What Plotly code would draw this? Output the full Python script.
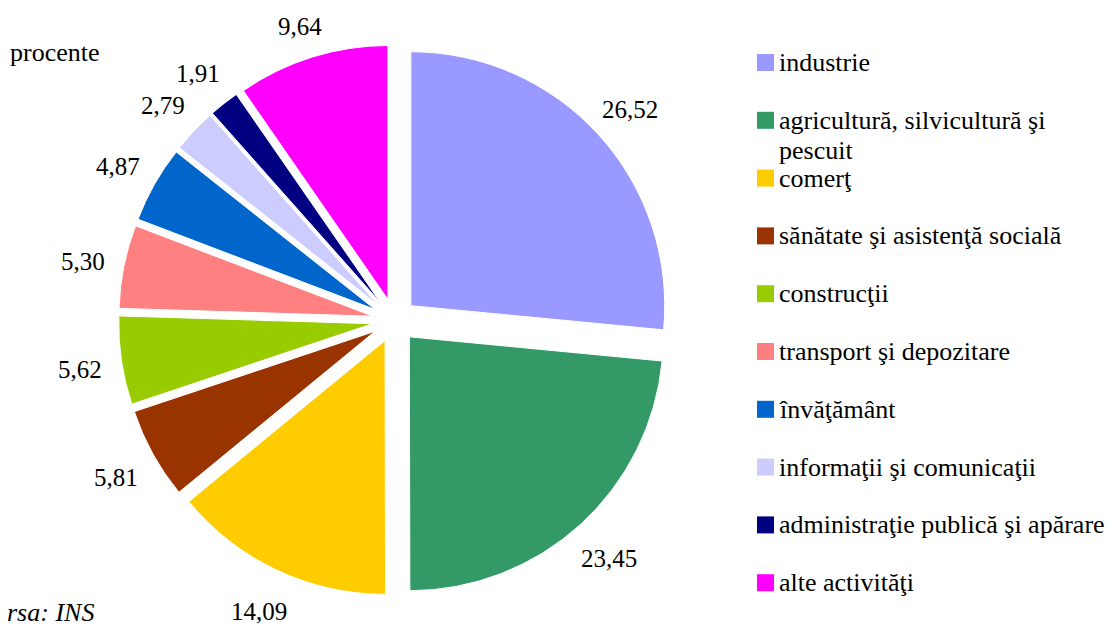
import math
import plotly.graph_objects as go

# populatia ocupata pe activitati, procente
categorii = ['industrie', 'agricultură, silvicultură şi pescuit', 'comerţ',
             'sănătate şi asistenţă socială', 'construcţii', 'transport şi depozitare',
             'învăţământ', 'informaţii şi comunicaţii', 'administraţie publică şi apărare',
             'alte activităţi']
valori = [26.52, 23.45, 14.09, 5.81, 5.62, 5.30, 4.87, 2.79, 1.91, 9.64]
culori = ['#9999FF', '#339966', '#FFCC00', '#993300', '#99CC00',
          '#FF8080', '#0066CC', '#CCCCFF', '#000080', '#FF00FF']
etichete = [f'{v:.2f}'.replace('.', ',') for v in valori]

W, H = 1113, 625
OFF = 8  # marginea body din pagina html
FONT = 'Times New Roman, Liberation Serif, serif'


def px(x):
    return (x - OFF) / W


def py(y):
    return 1 - (y - OFF) / H


# cercul placintei, in pixeli
CX, CY, HALF = 394.5, 320.5, 276
fig = go.Figure(go.Pie(
    labels=categorii, values=valori,
    sort=False, direction='clockwise', rotation=0,
    marker=dict(colors=culori, line=dict(color='white', width=1)),
    pull=0.087, textinfo='none',
    domain=dict(x=[px(CX - HALF), px(CX + HALF)], y=[py(CY + HALF), py(CY - HALF)]),
    showlegend=False, hoverinfo='label+value',
))

annotations = []
# etichetele valorilor, in afara feliilor
total = sum(valori)
cum = 0
for v, et in zip(valori, etichete):
    a = 2 * math.pi * (cum + v / 2) / total
    cum += v
    ly = max(CY + 3 - 318 * math.cos(a), 26)  # sa nu iasa din pagina sus
    annotations.append(dict(x=px(CX + 318 * math.sin(a)), y=py(ly),
                            xref='paper', yref='paper', text=et, showarrow=False,
                            xanchor='center', yanchor='middle',
                            font=dict(family=FONT, size=25, color='black')))

# legenda desenata manual (spatiere mare intre elemente)
shapes = []
for i, (nume, cul) in enumerate(zip(categorii, culori)):
    yc = 62.5 + 57.8 * i
    shapes.append(dict(type='rect', xref='paper', yref='paper',
                       x0=px(757), x1=px(774), y0=py(yc - 8.5), y1=py(yc + 8.5),
                       fillcolor=cul, line=dict(width=0)))
    randuri = [nume]
    if nume.startswith('agricultur'):
        randuri = ['agricultură, silvicultură şi', 'pescuit']
    for k, r in enumerate(randuri):
        annotations.append(dict(x=px(777), y=py(yc + 30 * k), xref='paper', yref='paper',
                                text=r, showarrow=False, xanchor='left', yanchor='middle',
                                align='left', font=dict(family=FONT, size=26, color='black')))

annotations.append(dict(x=px(8), y=py(53), xref='paper', yref='paper', text='procente',
                        showarrow=False, xanchor='left', yanchor='middle',
                        font=dict(family=FONT, size=26, color='black')))
annotations.append(dict(x=px(96), y=py(612), xref='paper', yref='paper', text='<i>Sursa: INS</i>',
                        showarrow=False, xanchor='right', yanchor='middle',
                        font=dict(family=FONT, size=26, color='black')))

fig.update_layout(width=W, height=H, margin=dict(l=0, r=0, t=0, b=0, autoexpand=False),
                  paper_bgcolor='white', plot_bgcolor='white',
                  shapes=shapes, annotations=annotations)

fig.write_html("out.html")
